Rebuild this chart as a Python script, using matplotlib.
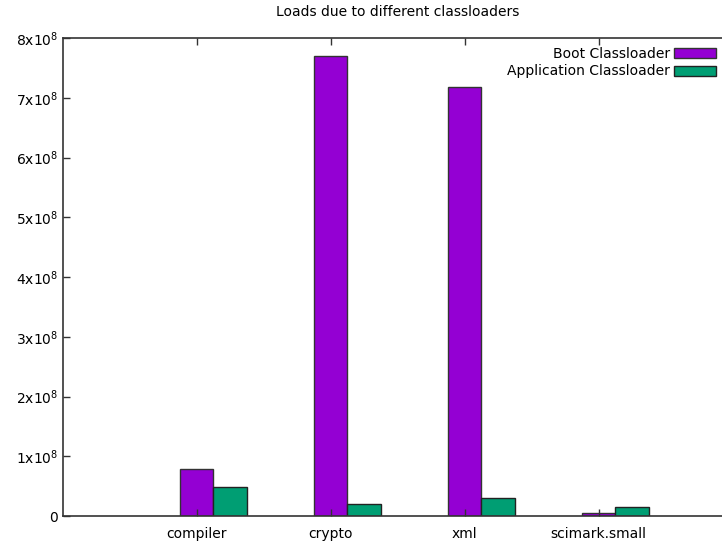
import matplotlib
matplotlib.use("Agg")
import matplotlib.pyplot as plt
import numpy as np

plt.rcParams["font.family"] = "DejaVu Sans"
plt.rcParams["mathtext.fontset"] = "dejavusans"

benchmarks = ["compiler", "crypto", "xml", "scimark.small"]
boot_loads = [0.787e8, 7.70e8, 7.18e8, 0.045e8]
app_loads = [0.485e8, 0.20e8, 0.30e8, 0.15e8]
y_ticks = [0, 1e8, 2e8, 3e8, 4e8, 5e8, 6e8, 7e8, 8e8]

W, H = 722, 544
fig = plt.figure(figsize=(W / 100, H / 100), dpi=100)
# axes runs past the right edge of the canvas, like the gnuplot output
left, right, top, bottom = 62.7, 732.7, 38, 516
ax = fig.add_axes([left / W, 1 - bottom / H, (right - left) / W, (bottom - top) / H])

x = np.arange(len(benchmarks))
w = 0.25
ax.bar(x, boot_loads, w, color="#9400d3", edgecolor="#333333", linewidth=1,
       label="Boot Classloader")
ax.bar(x + w, app_loads, w, color="#009e73", edgecolor="#222222", linewidth=1,
       label="Application Classloader")

ax.set_xlim(-1, 4)
ax.set_ylim(0, 8e8)
ax.set_xticks(x)
ax.set_xticklabels(benchmarks, fontsize=10)
ax.set_yticks(y_ticks)
ax.set_yticklabels(["0"] + [f"{i}x10$^{{8}}$" for i in range(1, 9)], fontsize=10)
ax.tick_params(direction="in", length=5, width=1, top=True, right=True, color="#333333")
ax.tick_params(axis="x", pad=8)
for s in ax.spines.values():
    s.set_linewidth(1.2)
    s.set_color("#333333")

ax.set_title("Loads due to different classloaders", fontsize=10, pad=16)

leg = ax.legend(loc="upper right", bbox_to_anchor=(716 / W, 1 - 47 / H),
                bbox_transform=fig.transFigure, frameon=False, markerfirst=False,
                fontsize=10, handlelength=3.0, handleheight=0.75,
                handletextpad=0.3, labelspacing=0.25, borderaxespad=0, borderpad=0)

fig.savefig("out.png", dpi=100)
